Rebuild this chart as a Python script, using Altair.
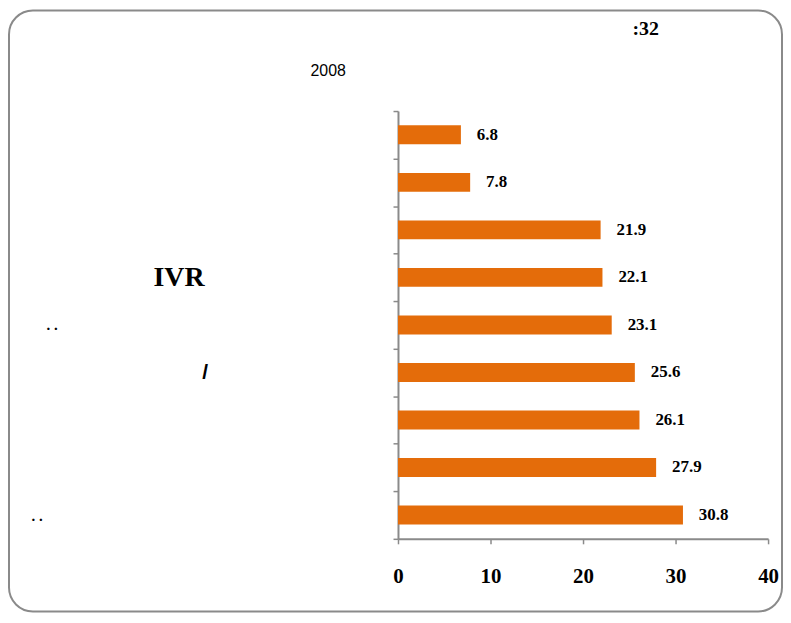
import json
import altair as alt
import pandas as pd

EM = "\u2003"
EN = "\u2002"
THIN = "\u2009"
ZW = "\u200b"

# Category labels (only the glyphs visible in the reference; hidden characters kept as em spaces)
categories = [
    "",
    "",
    "",
    "IVR" + EM * 6 + EN + ZW,
    ". ." + EM * 22 + ZW,
    "/" + EM * 8 + EN + ZW,
    "",
    "",
    ". ." + EM * 23 + ZW,
]
values = [6.8, 7.8, 21.9, 22.1, 23.1, 25.6, 26.1, 27.9, 30.8]
x_ticks = [0, 10, 20, 30, 40]

title_text = ":32"
subtitle_text = "2008"

df = pd.DataFrame({"idx": list(range(len(values))), "value": values})
label_expr = json.dumps(categories) + "[datum.value]"

frame = alt.Chart(pd.DataFrame({"a": [0]})).mark_rect(
    fill="white", fillOpacity=0, stroke="#8a8a8a", strokeWidth=2, cornerRadius=24
).encode(
    x=alt.value(-391), x2=alt.value(386), y=alt.value(-101), y2=alt.value(503)
)

y_enc = alt.Y(
    "idx:O",
    sort=None,
    scale=alt.Scale(paddingInner=0, paddingOuter=0),
    axis=alt.Axis(
        title=None,
        labelExpr=label_expr,
        tickBand="extent",
        tickSize=5,
        tickColor="#8a8a8a",
        tickWidth=1.5,
        domainColor="#8a8a8a",
        domainWidth=2,
        labelPadding=8,
        labelFont={"condition": {"test": "datum.value == 5", "value": "Liberation Sans"},
                   "value": "Liberation Serif"},
        labelFontWeight="bold",
        labelFontSize={"condition": [{"test": "datum.value == 3", "value": 28},
                                     {"test": "datum.value == 5", "value": 21}],
                       "value": 15},
        labelColor="black",
        labelLimit=0,
        labelAlign="right",
    ),
)
x_enc = alt.X(
    "value:Q",
    scale=alt.Scale(domain=[0, 40], nice=False),
    axis=alt.Axis(
        title=None,
        values=x_ticks,
        grid=False,
        tickSize=5,
        tickColor="#8a8a8a",
        tickWidth=1.5,
        domainColor="#8a8a8a",
        domainWidth=2,
        labelPadding=22,
        labelFlush=False,
        labelFont="Liberation Serif",
        labelFontWeight="bold",
        labelFontSize=21,
        labelColor="black",
        format="d",
    ),
)

bars = alt.Chart(df).mark_bar(color="#E46C0A", size=19).encode(y=y_enc, x=x_enc)
labels = alt.Chart(df).mark_text(
    align="left", baseline="middle", dx=16,
    font="Liberation Serif", fontWeight="bold", fontSize=17, color="black"
).encode(y=alt.Y("idx:O", sort=None), x="value:Q", text=alt.Text("value:Q", format=".1f"))

chart = alt.layer(frame, bars, labels).properties(
    width=372,
    height=430,
    padding=0,
    title=alt.TitleParams(
        text=ZW + EM * 16 + THIN + title_text,
        subtitle=subtitle_text,
        anchor="start",
        frame="group",
        dx=-88,
        offset=-70,
        font="Liberation Serif",
        fontWeight="bold",
        fontSize=20,
        color="black",
        subtitleFont="Liberation Sans",
        subtitleFontSize=16,
        subtitleColor="black",
        subtitlePadding=24,
    ),
).configure_view(stroke=None)

chart.save("out.html", embed_options={"renderer": "svg", "actions": False})
